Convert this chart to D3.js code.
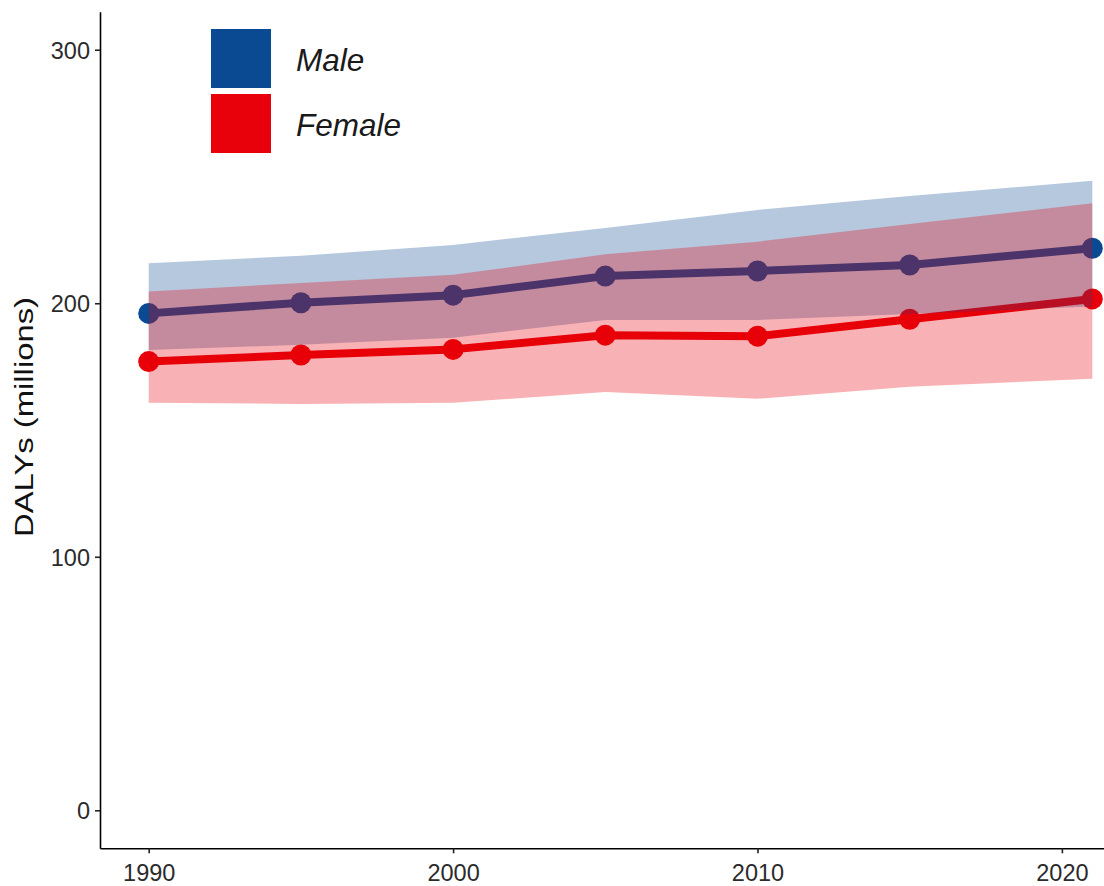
<!DOCTYPE html>
<html>
<head>
<meta charset="utf-8">
<script src="https://cdn.jsdelivr.net/npm/d3@7/dist/d3.min.js"></script>
<style>
  html, body { margin: 0; padding: 0; background: #fff; }
  svg { display: block; font-family: "Liberation Sans", Arial, Helvetica, sans-serif; }
</style>
</head>
<body>
<svg id="chart" width="1104" height="886"></svg>
<script>
// DALYs by sex, 1990-2021 (millions), with uncertainty intervals
const years = [1990, 1995, 2000, 2005, 2010, 2015, 2021];
const maleValue = [196.0, 200.2, 203.2, 210.7, 212.7, 215.1, 221.7];
const maleLower = [181.6, 183.6, 186.4, 193.4, 193.4, 195.8, 198.7];
const maleUpper = [215.8, 218.7, 223.0, 229.7, 236.8, 242.3, 248.3];
const femaleValue = [177.0, 179.6, 181.8, 187.4, 187.0, 193.7, 201.7];
const femaleLower = [160.7, 160.3, 160.7, 165.0, 162.3, 167.1, 170.2];
const femaleUpper = [204.6, 208.0, 211.2, 219.3, 224.3, 231.3, 239.4];
const xTicks = [1990, 2000, 2010, 2020];
const yTicks = [0, 100, 200, 300];
const sexes = ["Male", "Female"];
const sexColors = ["#0a4a92", "#e8000a"];

const series = [
  { name: sexes[0], color: sexColors[0], value: maleValue, lower: maleLower, upper: maleUpper },
  { name: sexes[1], color: sexColors[1], value: femaleValue, lower: femaleLower, upper: femaleUpper }
].map(s => ({ ...s, rows: years.map((y, i) => ({ year: y, v: s.value[i], lo: s.lower[i], hi: s.upper[i] })) }));

const svg = d3.select("#chart");

const x = d3.scaleLinear().domain([1988.4, 2022.55]).range([100, 1139.5]);
const y = d3.scaleLinear().domain([-15, 315]).range([848.3, 11.7]);

const plot = svg.append("g");

// lines and points first; the translucent ribbons are laid over them
const line = d3.line().x(d => x(d.year)).y(d => y(d.v));
series.forEach(s => {
  plot.append("path")
    .datum(s.rows)
    .attr("d", line)
    .attr("fill", "none")
    .attr("stroke", s.color)
    .attr("stroke-width", 8)
    .attr("stroke-linejoin", "round");
});
series.forEach(s => {
  plot.selectAll(null)
    .data(s.rows)
    .join("circle")
    .attr("cx", d => x(d.year))
    .attr("cy", d => y(d.v))
    .attr("r", 10.5)
    .attr("fill", s.color);
});

const area = d3.area().x(d => x(d.year)).y0(d => y(d.lo)).y1(d => y(d.hi));
series.forEach(s => {
  plot.append("path")
    .datum(s.rows)
    .attr("d", area)
    .attr("fill", s.color)
    .attr("fill-opacity", 0.3);
});

// axes
const xAxis = d3.axisBottom(x).tickValues(xTicks).tickFormat(d3.format("d"))
  .tickSizeInner(5).tickSizeOuter(0).tickPadding(5);
const yAxis = d3.axisLeft(y).tickValues(yTicks)
  .tickSizeInner(5).tickSizeOuter(0).tickPadding(5);

const gx = svg.append("g").attr("transform", `translate(0,${y(-15)})`).call(xAxis);
const gy = svg.append("g").attr("transform", `translate(${x(1988.4)},0)`).call(yAxis);

[gx, gy].forEach(g => {
  g.select(".domain").attr("stroke", "#000").attr("stroke-width", 1.6);
  g.selectAll(".tick line").attr("stroke", "#222").attr("stroke-width", 1.6);
  g.selectAll(".tick text")
    .attr("fill", "#2b2b2b")
    .style("font-size", "23.5px")
    .style("font-family", "'Liberation Sans', Arial, sans-serif");
});
gx.selectAll(".tick text").attr("dy", "0.95em");
gy.selectAll(".tick text").attr("dy", "0.36em");

// y-axis title
svg.append("text")
  .attr("transform", "translate(33,417) rotate(-90)")
  .attr("text-anchor", "middle")
  .attr("fill", "#111")
  .style("font-size", "26px")
  .attr("textLength", 240)
  .attr("lengthAdjust", "spacingAndGlyphs")
  .text("DALYs (millions)");

// legend
const legend = svg.append("g").attr("transform", "translate(211,29)");
series.forEach((s, i) => {
  const g = legend.append("g").attr("transform", `translate(0,${i * 65})`);
  g.append("rect").attr("width", 60).attr("height", 59).attr("fill", s.color);
  g.append("text")
    .attr("x", 85)
    .attr("y", 42)
    .attr("fill", "#1a1a1a")
    .style("font-size", "31.5px")
    .style("font-style", "italic")
    .text(s.name);
});
</script>
</body>
</html>
